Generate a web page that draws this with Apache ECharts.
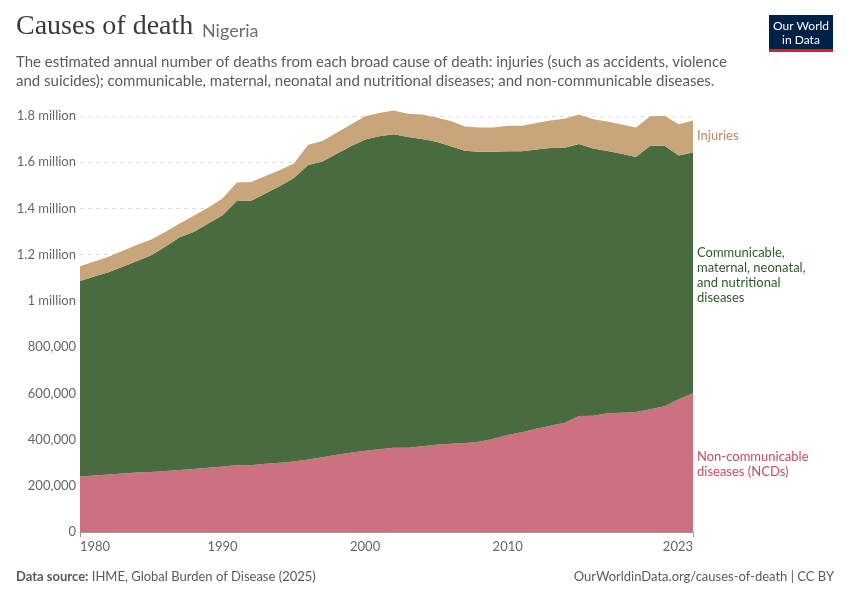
<!DOCTYPE html>
<html>
<head>
<meta charset="utf-8">
<script src="https://cdn.jsdelivr.net/npm/echarts@6/dist/echarts.min.js"></script>
<style>
  html, body { margin: 0; padding: 0; background: #fff; }
  #chart { width: 850px; height: 600px; }
</style>
</head>
<body>
<div id="chart"></div>
<script>
var years = [];
for (var y = 1980; y <= 2023; y++) years.push(String(y));

// deaths
var ncd = [240000, 245000, 249000, 253000, 257000, 260000, 264000, 268000, 273000, 278000,
  283000, 289000, 289000, 295000, 300000, 305000, 314000, 323000, 334000, 343000,
  352000, 358000, 365000, 365000, 371000, 377000, 382000, 385000, 391000, 404000,
  420000, 432000, 447000, 460000, 473000, 502000, 503000, 514000, 516000, 519000,
  531000, 544000, 574000, 600000];
var stackTop = [1086000, 1105000, 1124000, 1148000, 1173000, 1197000, 1235000, 1275000, 1299000, 1335000,
  1371000, 1432000, 1433000, 1465000, 1496000, 1532000, 1588000, 1603000, 1637000, 1669000,
  1698000, 1712000, 1721000, 1709000, 1701000, 1689000, 1669000, 1650000, 1645000, 1645000,
  1647000, 1647000, 1655000, 1662000, 1663000, 1679000, 1659000, 1649000, 1637000, 1623000,
  1671000, 1671000, 1629000, 1642000];
var total = [1150000, 1170000, 1191000, 1217000, 1243000, 1266000, 1299000, 1335000, 1370000, 1404000,
  1443000, 1512000, 1514000, 1540000, 1565000, 1594000, 1676000, 1692000, 1727000, 1763000,
  1799000, 1813000, 1824000, 1810000, 1806000, 1793000, 1778000, 1755000, 1750000, 1750000,
  1758000, 1758000, 1770000, 1781000, 1788000, 1807000, 1786000, 1776000, 1763000, 1750000,
  1799000, 1801000, 1764000, 1781000];

var cmnn = [];
var injuries = [];
for (var i = 0; i < years.length; i++) {
  cmnn.push(stackTop[i] - ncd[i]);
  injuries.push(total[i] - stackTop[i]);
}

var shownYears = ['1980', '1990', '2000', '2010', '2023'];

var chart = echarts.init(document.getElementById('chart'));

function area(name, data, color) {
  return {
    name: name,
    type: 'line',
    stack: 'all',
    data: data,
    symbol: 'none',
    clip: false,
    lineStyle: { width: 0 },
    areaStyle: { color: color, opacity: 1 },
    itemStyle: { color: color },
    emphasis: { disabled: true }
  };
}

chart.setOption({
  animation: false,
  textStyle: { fontFamily: 'Lato' },
  grid: { left: 80, right: 157, top: 116, bottom: 68 },
  xAxis: {
    type: 'category',
    data: years,
    boundaryGap: false,
    axisLine: { lineStyle: { color: '#999' } },
    axisTick: {
      alignWithLabel: true,
      length: 5,
      lineStyle: { color: '#999' },
      interval: function (idx) { return idx === 0 || idx === years.length - 1; }
    },
    axisLabel: {
      color: '#666',
      fontSize: 13,
      margin: 8,
      alignMinLabel: 'left',
      alignMaxLabel: 'right',
      interval: function (idx, val) { return shownYears.indexOf(val) >= 0; }
    }
  },
  yAxis: {
    type: 'value',
    min: 0,
    max: 1800000,
    interval: 200000,
    axisLine: { show: false },
    axisTick: { show: false },
    splitLine: { lineStyle: { color: '#ddd', type: [4, 4] } },
    axisLabel: {
      color: '#666',
      fontSize: 13,
      margin: 4,
      formatter: function (v) {
        if (v >= 1000000) return (v / 1000000) + ' million';
        return v.toLocaleString('en-US');
      }
    }
  },
  series: [
    area('Non-communicable diseases (NCDs)', ncd, '#cc717f'),
    area('Communicable, maternal, neonatal, and nutritional diseases', cmnn, '#486b40'),
    area('Injuries', injuries, '#c8a57b')
  ],
  graphic: [
    { type: 'text', left: 16, top: 13, style: { text: 'Causes of death', font: '28px "Liberation Serif", serif', fill: '#3b3b3b' } },
    { type: 'text', left: 202, top: 22, style: { text: 'Nigeria', font: '18px Lato', fill: '#6e6e6e' } },
    { type: 'text', left: 16, top: 53, style: { text: 'The estimated annual number of deaths from each broad cause of death: injuries (such as accidents, violence\nand suicides); communicable, maternal, neonatal and nutritional diseases; and non-communicable diseases.', font: '15px Lato', fill: '#5b5b5b', lineHeight: 19 } },
    { type: 'rect', shape: { x: 769, y: 15, width: 64, height: 34 }, style: { fill: '#002147' } },
    { type: 'rect', shape: { x: 769, y: 49, width: 64, height: 3 }, style: { fill: '#ce261e' } },
    { type: 'text', x: 801, y: 19, style: { text: 'Our World\nin Data', font: '12px Lato', fill: '#fff', align: 'center', lineHeight: 14 } },
    { type: 'text', left: 697, top: 129, style: { text: 'Injuries', font: '13px Lato', fill: '#b58a5e' } },
    { type: 'text', left: 697, top: 245, style: { text: 'Communicable,\nmaternal, neonatal,\nand nutritional\ndiseases', font: '13px Lato', fill: '#2f5a2a', lineHeight: 15 } },
    { type: 'text', left: 697, top: 449, style: { text: 'Non-communicable\ndiseases (NCDs)', font: '13px Lato', fill: '#c94b64', lineHeight: 15 } },
    { type: 'text', left: 16, top: 570, style: { rich: { b: { font: 'bold 13px Lato', fill: '#5b5b5b' }, n: { font: '13px Lato', fill: '#5b5b5b' } }, text: '{b|Data source:} {n|IHME, Global Burden of Disease (2025)}' } },
    { type: 'text', right: 16, top: 570, style: { text: 'OurWorldinData.org/causes-of-death | CC BY', font: '13px Lato', fill: '#5b5b5b' } }
  ]
});
</script>
</body>
</html>
